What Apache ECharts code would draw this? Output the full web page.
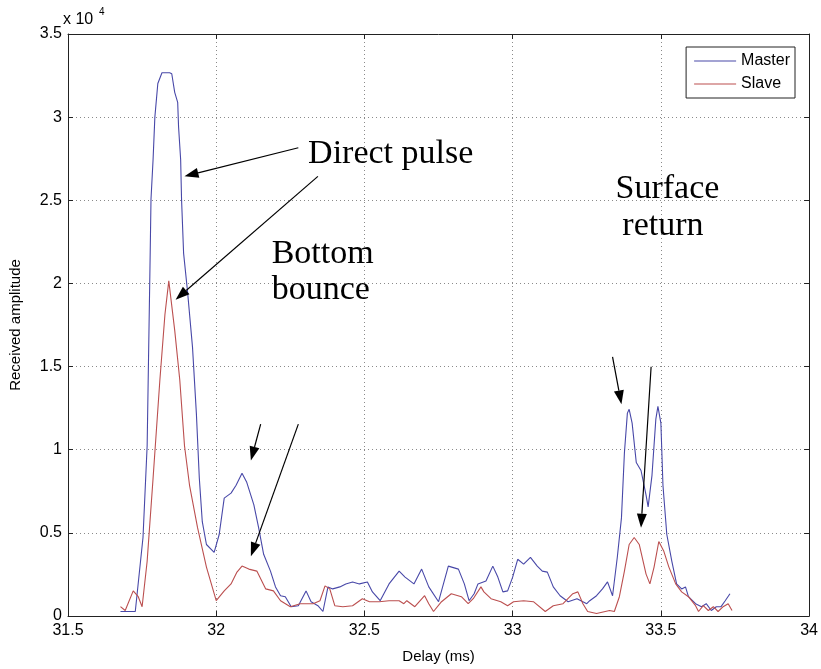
<!DOCTYPE html>
<html><head><meta charset="utf-8">
<script src="https://cdn.jsdelivr.net/npm/echarts@6/dist/echarts.min.js"></script>
<style>html,body{margin:0;padding:0;background:#fff}#c{width:821px;height:669px}</style>
</head><body><div id="c"></div>
<script>
// ---- data (delay in ms, amplitude in raw counts) ----
const masterDelay = [31.677,31.727,31.753,31.767,31.777,31.780,31.787,31.793,31.803,31.817,
31.843,31.850,31.860,31.870,31.873,31.880,31.883,31.890,31.903,31.920,
31.933,31.943,31.953,31.967,31.993,32.010,32.027,32.050,32.067,32.087,
32.103,32.127,32.143,32.160,32.183,32.200,32.217,32.233,32.253,32.277,
32.303,32.320,32.343,32.360,32.377,32.393,32.417,32.437,32.460,32.483,
32.510,32.527,32.553,32.583,32.617,32.637,32.667,32.693,32.717,32.750,
32.783,32.817,32.837,32.853,32.870,32.883,32.910,32.933,32.950,32.967,
32.983,33.000,33.017,33.037,33.060,33.083,33.100,33.117,33.137,33.160,
33.187,33.217,33.250,33.260,33.283,33.303,33.320,33.337,33.353,33.367,
33.377,33.387,33.393,33.403,33.417,33.433,33.450,33.457,33.470,33.483,
33.490,33.500,33.507,33.520,33.537,33.553,33.570,33.583,33.593,33.617,
33.637,33.653,33.670,33.687,33.703,33.717,33.733];
const masterAmp = [270,270,4720,10240,21520,25080,27450,30000,32020,32670,
32670,32610,31490,30890,29410,27450,25080,21810,19560,16170,
12200,8280,5670,4300,3830,4900,7090,7390,7860,8580,
8040,6680,5310,3710,2700,1750,1220,1160,560,620,
1510,860,620,270,1750,1630,1750,1930,2050,1930,
2050,1450,920,1930,2700,2340,1930,2820,1750,860,
3000,2820,1930,920,1340,1930,2110,3000,2340,1450,
1510,2340,3410,3120,3530,3000,2700,2640,1750,1220,
860,1040,740,920,1220,1630,2050,1220,3530,5900,
9820,12200,12430,11600,9230,8750,7270,6560,8460,11840,
12610,11600,7860,4900,3290,1930,1630,1750,1160,740,
560,740,330,560,560,920,1340];
const slaveDelay = [31.677,31.693,31.720,31.737,31.750,31.767,31.787,31.810,31.827,31.840,
31.860,31.877,31.893,31.910,31.937,31.967,32.000,32.027,32.050,32.070,
32.087,32.110,32.137,32.167,32.193,32.217,32.250,32.283,32.327,32.350,
32.367,32.383,32.400,32.427,32.460,32.493,32.517,32.550,32.583,32.617,
32.633,32.643,32.670,32.703,32.717,32.733,32.760,32.793,32.827,32.850,
32.867,32.893,32.903,32.927,32.960,32.983,33.003,33.037,33.070,33.110,
33.137,33.170,33.203,33.220,33.237,33.253,33.283,33.327,33.343,33.360,
33.377,33.393,33.410,33.427,33.450,33.463,33.477,33.493,33.510,33.527,
33.550,33.570,33.593,33.617,33.627,33.643,33.660,33.677,33.693,33.710,
33.727,33.740];
const slaveAmp = [560,330,1510,1160,560,3290,8280,14210,18130,20150,
17180,14210,10240,7860,5310,2940,920,1510,1930,2640,
3000,2820,2700,1630,1510,920,560,740,740,920,
1810,1630,620,560,620,1040,860,860,920,920,
740,920,560,1220,740,270,860,1340,1160,740,
1040,1750,1450,1040,860,620,860,920,860,270,
620,740,1340,1450,740,270,150,330,270,1160,
2700,4300,4720,4300,2520,1930,2940,4480,3890,2940,
1930,1450,1160,620,270,620,330,560,270,560,
740,330];
const seriesNames = ['Master','Slave'];
const xTickLabels = ['31.5','32','32.5','33','33.5','34'];
const yTickLabels = ['0','0.5','1','1.5','2','2.5','3','3.5'];
const xName = 'Delay (ms)';
const yName = 'Received amplitude';

// annotation anchors in data space: [delay, amplitude]
const annoTexts = [
  {text:'Direct pulse', at:[32.310, 27750]},
  {text:'Bottom\nbounce', at:[32.187, 20680]},
  {text:'Surface', at:[33.347, 25670]},
  {text:'return', at:[33.370, 23470]}
];
const annoArrows = [
  [[32.277, 28160],[31.893, 26440]],
  [[32.343, 26440],[31.863, 19020]],
  [[32.150, 11540],[32.117, 9350]],
  [[32.277, 11540],[32.117, 3590]],
  [[33.337, 15580],[33.367, 12730]],
  [[33.467, 14990],[33.433, 5310]]
];

const zip = (xs, ys) => xs.map((x, i) => [x, ys[i]]);
const FONT = 'Liberation Sans, Arial, sans-serif';
const chart = echarts.init(document.getElementById('c'), null, {renderer:'canvas'});
const axisLineStyle = {color:'#222', width:1};
const option = {
  animation:false,
  backgroundColor:'#fff',
  textStyle:{fontFamily:FONT},
  grid:{left:64, right:11, top:34, bottom:46, containLabel:false},
  legend:{
    data:seriesNames, orient:'vertical', right:26, top:47,
    backgroundColor:'#fff', borderColor:'#222', borderWidth:1,
    padding:[5,5,5,8], itemGap:5, itemWidth:42, itemHeight:1.2, icon:'rect',
    textStyle:{fontSize:16, color:'#000', fontFamily:FONT, lineHeight:18}
  },
  xAxis:[{
    type:'value', min:31.5, max:34, interval:0.5,
    name:xName, nameLocation:'middle', nameGap:33,
    nameTextStyle:{fontSize:15, color:'#000', fontFamily:FONT},
    axisLine:{show:true, onZero:false, lineStyle:axisLineStyle},
    axisTick:{show:true, inside:true, length:5, lineStyle:axisLineStyle},
    axisLabel:{fontSize:16, color:'#000', margin:7, fontFamily:FONT,
      formatter:(v)=>{const i=Math.round((v-31.5)/0.5); return xTickLabels[i]||'';}},
    splitLine:{show:true, lineStyle:{color:'#8a8a8a', type:[1,3], width:1}}
  },{
    type:'value', min:31.5, max:34, interval:0.5, position:'top',
    axisLine:{show:true, onZero:false, lineStyle:axisLineStyle},
    axisTick:{show:true, inside:true, length:5, lineStyle:axisLineStyle},
    axisLabel:{show:false}, splitLine:{show:false}
  }],
  yAxis:[{
    type:'value', min:0, max:35000, interval:5000,
    name:yName, nameLocation:'middle', nameGap:45,
    nameTextStyle:{fontSize:15, color:'#000', fontFamily:FONT},
    axisLine:{show:true, onZero:false, lineStyle:axisLineStyle},
    axisTick:{show:true, inside:true, length:5, lineStyle:axisLineStyle},
    axisLabel:{fontSize:16, color:'#000', margin:6, fontFamily:FONT,
      formatter:(v)=>yTickLabels[Math.round(v/5000)]||''},
    splitLine:{show:true, lineStyle:{color:'#8a8a8a', type:[1,3], width:1}}
  },{
    type:'value', min:0, max:35000, interval:5000, position:'right',
    axisLine:{show:true, onZero:false, lineStyle:axisLineStyle},
    axisTick:{show:true, inside:true, length:5, lineStyle:axisLineStyle},
    axisLabel:{show:false}, splitLine:{show:false}
  }],
  series:[
    {name:seriesNames[0], type:'line', data:zip(masterDelay, masterAmp), xAxisIndex:0, yAxisIndex:0,
     symbol:'none', showSymbol:false, lineStyle:{color:'#4848a8', width:1.1}, itemStyle:{color:'#4848a8'}, z:3},
    {name:seriesNames[1], type:'line', data:zip(slaveDelay, slaveAmp), xAxisIndex:0, yAxisIndex:0,
     symbol:'none', showSymbol:false, lineStyle:{color:'#bb4f4f', width:1.1}, itemStyle:{color:'#bb4f4f'}, z:4}
  ]
};
chart.setOption(option);

const P = (d) => chart.convertToPixel({seriesIndex:0}, d);
const g = [];
// exponent label
g.push({type:'text', left:63, top:12, style:{text:'x 10', fontSize:16, fontFamily:FONT, fill:'#000'}});
g.push({type:'text', left:99, top:7, style:{text:'4', fontSize:10, fontFamily:FONT, fill:'#000'}});
annoTexts.forEach(t => {
  const p = P(t.at);
  g.push({type:'text', x:p[0], y:p[1], z:10, style:{text:t.text, fontSize:34, lineHeight:36,
    fontFamily:'Liberation Serif, Times New Roman, serif', fill:'#000', align:'left', verticalAlign:'middle'}});
});
annoArrows.forEach(([tail, tip]) => {
  const a = P(tail), b = P(tip);
  const dx=b[0]-a[0], dy=b[1]-a[1], L=Math.hypot(dx,dy), ux=dx/L, uy=dy/L;
  const hl=14, hw=5;
  const bx=b[0]-ux*hl, by=b[1]-uy*hl;
  g.push({type:'line', z:10, shape:{x1:a[0],y1:a[1],x2:bx,y2:by}, style:{stroke:'#000', lineWidth:1.2}});
  g.push({type:'polygon', z:10, shape:{points:[[b[0],b[1]],[bx-uy*hw,by+ux*hw],[bx+uy*hw,by-ux*hw]]}, style:{fill:'#000'}});
});
chart.setOption({graphic:g});
</script></body></html>
